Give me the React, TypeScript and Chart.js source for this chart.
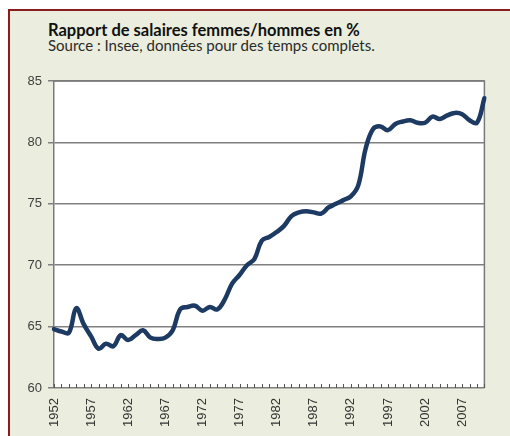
import React, { useEffect, useRef } from "react";
import { Chart, registerables } from "chart.js";

Chart.register(...registerables);

const years: number[] = [
  1952, 1953, 1954, 1955, 1956, 1957, 1958, 1959, 1960, 1961,
  1962, 1963, 1964, 1965, 1966, 1967, 1968, 1969, 1970, 1971,
  1972, 1973, 1974, 1975, 1976, 1977, 1978, 1979, 1980, 1981,
  1982, 1983, 1984, 1985, 1986, 1987, 1988, 1989, 1990, 1991,
  1992, 1993, 1994, 1995, 1996, 1997, 1998, 1999, 2000, 2001,
  2002, 2003, 2004, 2005, 2006, 2007, 2008, 2009, 2010,
];

const ratio: number[] = [
  64.8, 64.6, 64.5, 66.5, 65.2, 64.2, 63.2, 63.6, 63.4, 64.3,
  63.9, 64.3, 64.7, 64.1, 64.0, 64.1, 64.7, 66.4, 66.6, 66.7,
  66.3, 66.6, 66.4, 67.2, 68.5, 69.2, 70.0, 70.5, 72.0, 72.3,
  72.7, 73.2, 74.0, 74.3, 74.4, 74.3, 74.2, 74.7, 75.0, 75.3,
  75.6, 76.5, 79.5, 81.1, 81.3, 81.0, 81.5, 81.7, 81.8, 81.6,
  81.6, 82.1, 81.9, 82.2, 82.4, 82.3, 81.8, 81.6, 83.6,
];

const yMin = 60;
const yMax = 85;
const yStep = 5;
const labelEvery = 5;

const title = "Rapport de salaires femmes/hommes en %";
const subtitle = "Source : Insee, données pour des temps complets.";

const framePlugin = {
  id: "frame",
  beforeDraw(chart: any) {
    const { ctx, chartArea } = chart;
    ctx.save();
    ctx.fillStyle = "#ffffff";
    ctx.fillRect(chartArea.left, chartArea.top, chartArea.right - chartArea.left, chartArea.bottom - chartArea.top);
    ctx.restore();
  },
  beforeDatasetsDraw(chart: any) {
    const { ctx, chartArea } = chart;
    const xs = chart.scales.x;
    ctx.save();
    ctx.strokeStyle = "#7a7a7a";
    ctx.lineWidth = 1.5;
    ctx.beginPath();
    ctx.moveTo(chartArea.left, chartArea.top);
    ctx.lineTo(chartArea.right, chartArea.top);
    ctx.lineTo(chartArea.right, chartArea.bottom);
    ctx.stroke();
    ctx.lineWidth = 1;
    ctx.strokeStyle = "#555555";
    ctx.beginPath();
    for (let i = 0; i < years.length; i++) {
      const x = Math.round(xs.getPixelForValue(i)) + 0.5;
      ctx.moveTo(x, chartArea.bottom);
      ctx.lineTo(x, chartArea.bottom - 4);
    }
    ctx.stroke();
    ctx.restore();
  },
};

export default function App() {
  const ref = useRef<HTMLCanvasElement | null>(null);

  useEffect(() => {
    if (!ref.current) return;
    const chart = new Chart(ref.current, {
      type: "line",
      data: {
        labels: years.map(String),
        datasets: [
          {
            data: ratio,
            borderColor: "#1c3a62",
            borderWidth: 4.5,
            tension: 0.4,
            pointRadius: 0,
            fill: false,
            borderCapStyle: "round",
            borderJoinStyle: "round",
          },
        ],
      },
      options: {
        responsive: false,
        animation: false,
        layout: { padding: { left: 0, right: 16, top: 81, bottom: 0 } },
        plugins: {
          legend: { display: false },
          tooltip: { enabled: false },
        },
        scales: {
          x: {
            type: "category",
            offset: false,
            grid: { display: false, drawTicks: false },
            border: { display: false },
            ticks: {
              autoSkip: false,
              maxRotation: 90,
              minRotation: 90,
              padding: 10,
              color: "#333333",
              font: { family: "'Liberation Sans', Arial, sans-serif", size: 13 },
              callback: (_v: any, i: number) =>
                (years[i] - years[0]) % labelEvery === 0 ? String(years[i]) : "",
            },
            afterFit: (s: any) => {
              s.height = 48;
            },
          },
          y: {
            min: yMin,
            max: yMax,
            grid: { color: "#808080", lineWidth: 1.5, tickLength: 6 },
            border: { display: true, color: "#7a7a7a", width: 1.5 },
            ticks: {
              stepSize: yStep,
              padding: 6,
              color: "#404040",
              font: { family: "'Liberation Sans', Arial, sans-serif", size: 13 },
            },
            afterFit: (s: any) => {
              s.width = 54;
            },
          },
        },
      },
      plugins: [framePlugin],
    });
    return () => chart.destroy();
  }, []);

  return (
    <div style={{ position: "fixed", left: 0, top: 0, width: 510, height: 436, background: "#ffffff", overflow: "hidden" }}>
      <div
        style={{
          position: "absolute",
          left: 8,
          top: 9,
          width: 520,
          height: 440,
          background: "#ebeede",
          borderLeft: "2px solid #8b1c1c",
          borderTop: "2px solid #8b1c1c",
        }}
      />
      <div
        style={{
          position: "absolute",
          left: 48,
          top: 22,
          fontFamily: "Lato, 'Noto Sans', sans-serif",
          fontWeight: 700,
          fontSize: 16.5,
          lineHeight: "17px",
          color: "#111111",
          whiteSpace: "nowrap",
        }}
      >
        {title}
      </div>
      <div
        style={{
          position: "absolute",
          left: 48,
          top: 38,
          fontFamily: "Lato, 'Noto Sans', sans-serif",
          fontSize: 15,
          lineHeight: "15px",
          color: "#2a2a2a",
          whiteSpace: "nowrap",
        }}
      >
        {subtitle}
      </div>
      <canvas ref={ref} width={510} height={436} style={{ position: "absolute", left: 0, top: 0, width: 510, height: 436 }} />
    </div>
  );
}
